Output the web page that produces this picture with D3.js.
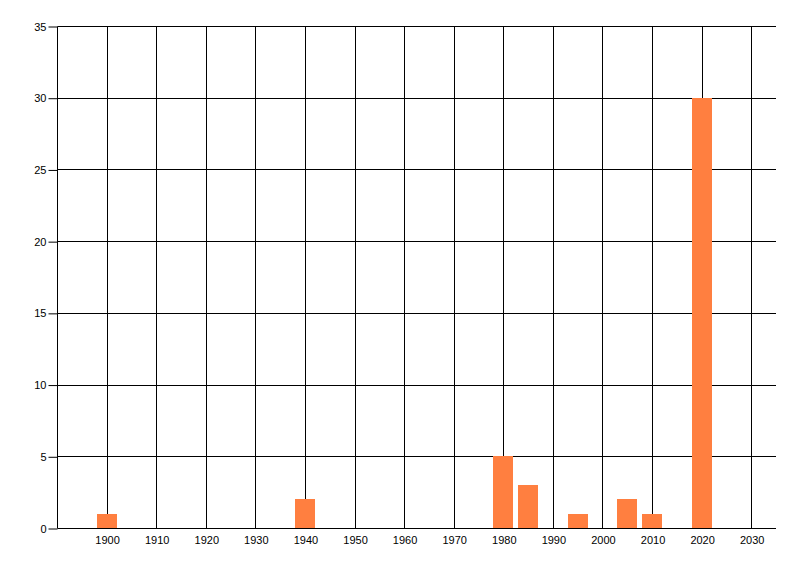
<!DOCTYPE html>
<html>
<head>
<meta charset="utf-8">
<script src="https://cdn.jsdelivr.net/npm/d3@7"></script>
<style>
  html, body { margin: 0; padding: 0; background: #fff; }
  svg { display: block; }
  text { font-family: "Liberation Sans", Arial, sans-serif; font-size: 11px; fill: #000; }
</style>
</head>
<body>
<svg id="chart" width="800" height="576"></svg>
<script>
const years = [1900, 1940, 1980, 1985, 1995, 2005, 2010, 2020];
const values = [1, 2, 5, 3, 1, 2, 1, 30];
const xTicks = [1900, 1910, 1920, 1930, 1940, 1950, 1960, 1970, 1980, 1990, 2000, 2010, 2020, 2030];
const yTicks = [0, 5, 10, 15, 20, 25, 30, 35];
const xDomain = [1890, 2035];
const yDomain = [0, 35];
const barHalfWidth = 2; // years

const svg = d3.select("#chart");
const x = d3.scaleLinear().domain(xDomain).range([57, 776]);
const y = d3.scaleLinear().domain(yDomain).range([528, 26]);
const px = v => Math.round(v) + 0.5;

const g = svg.append("g");

// horizontal grid lines
g.selectAll("line.hg").data(yTicks.filter(d => d > 0)).enter().append("line")
  .attr("x1", px(x(xDomain[0]))).attr("x2", Math.round(x(xDomain[1])))
  .attr("y1", d => px(y(d))).attr("y2", d => px(y(d)))
  .attr("stroke", "#000").attr("stroke-width", 1);

// vertical grid lines
g.selectAll("line.vg").data(xTicks).enter().append("line")
  .attr("x1", d => px(x(d))).attr("x2", d => px(x(d)))
  .attr("y1", px(y(yDomain[1]))).attr("y2", px(y(0)))
  .attr("stroke", "#000").attr("stroke-width", 1);

// bars (drawn over the grid)
g.selectAll("rect.bar").data(years.map((yr, i) => ({ yr, v: values[i] })))
  .enter().append("rect")
  .attr("class", "bar")
  .attr("x", d => Math.round(x(d.yr - barHalfWidth)))
  .attr("width", d => Math.round(x(d.yr + barHalfWidth)) - Math.round(x(d.yr - barHalfWidth)))
  .attr("y", d => Math.round(y(d.v)))
  .attr("height", d => Math.round(y(0)) - Math.round(y(d.v)))
  .attr("fill", "#ff7f40");

// x axis baseline
g.append("line")
  .attr("x1", px(x(xDomain[0]))).attr("x2", Math.round(x(xDomain[1])))
  .attr("y1", px(y(0))).attr("y2", px(y(0)))
  .attr("stroke", "#000");

// left axis line
g.append("line")
  .attr("x1", px(x(xDomain[0]))).attr("x2", px(x(xDomain[0])))
  .attr("y1", px(y(yDomain[1]))).attr("y2", px(y(0)))
  .attr("stroke", "#000");

// y axis ticks and labels
const yAxis = d3.axisLeft(y).tickValues(yTicks).tickSize(9).tickPadding(2).tickFormat(d3.format("d"));
const ya = svg.append("g").attr("transform", `translate(${px(x(xDomain[0]))},0.5)`).call(yAxis);
ya.select(".domain").remove();
ya.selectAll(".tick line").attr("stroke", "#000");
ya.selectAll("text").attr("font-family", "Liberation Sans, Arial, sans-serif").attr("font-size", 11).attr("fill", "#000");

// x axis labels
const xAxis = d3.axisBottom(x).tickValues(xTicks).tickSize(0).tickPadding(8).tickFormat(d3.format("d"));
const xa = svg.append("g").attr("transform", `translate(0.5,${px(y(0))})`).call(xAxis);
xa.select(".domain").remove();
xa.selectAll("text").attr("font-family", "Liberation Sans, Arial, sans-serif").attr("font-size", 11).attr("fill", "#000");
</script>
</body>
</html>
